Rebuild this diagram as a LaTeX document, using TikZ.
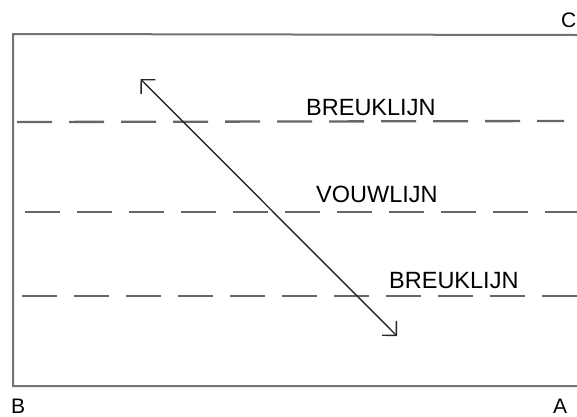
\documentclass[tikz,border=0pt]{standalone}
\usepackage{fontspec}
\setmainfont{Liberation Sans}
\usetikzlibrary{arrows.meta}
\begin{document}
\begin{tikzpicture}[x=1pt,y=-1pt,
  frame/.style={draw=black!55, line width=2pt},
  foldline/.style={draw=black!60, line width=2.3pt, dash pattern=on 35pt off 17pt},
  lbl/.style={inner sep=0pt, anchor=base west, font=\fontsize{23.5}{23.5}\selectfont},
  corner/.style={inner sep=0pt, anchor=base west, font=\fontsize{21}{21}\selectfont},
  arr/.style={draw=black!85, line width=1.4pt, {Straight Barb[length=10pt,width=20pt]}-{Straight Barb[length=10pt,width=20pt]}}]
\useasboundingbox (0,0) rectangle (577,416);
% frame
\draw[frame] (577,35) -- (13,34) -- (13,386) -- (577,386);
% dashed lines
\draw[foldline] (17,122) -- (564,121);
\draw[foldline] (25,212) -- (577,212);
\draw[foldline] (22,296) -- (577,296);
% labels
\node[lbl] (b1) at (306,115) {BREUKLIJN};
\node[lbl] (v) at (316,202.5) {VOUWLIJN};
\node[lbl] (b2) at (389,288) {BREUKLIJN};
\node[corner] (c) at (561,27) {C};
\node[corner] (b) at (11,413) {B};
\node[corner] (a) at (553,413) {A};
% arrow
\coordinate (p) at (140.5,79);
\coordinate (q) at (397,336);
\draw[arr] (p) -- (q);
\end{tikzpicture}
\end{document}
